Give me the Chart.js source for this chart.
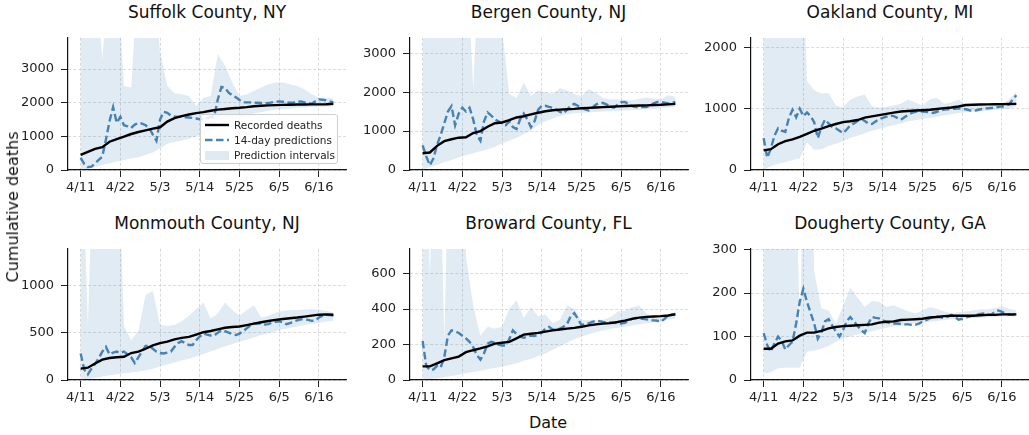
<!DOCTYPE html>
<html>
<head>
<meta charset="utf-8">
<script src="https://cdn.jsdelivr.net/npm/chart.js@4.4.1/dist/chart.umd.min.js"></script>
<style>
  body { margin: 0; background: #fff; font-family: "DejaVu Sans", sans-serif; }
  #fig { position: relative; width: 1029px; height: 435px; overflow: hidden; }
  .panel { position: absolute; }
  .title { position: absolute; text-align: center; font-size: 17px; line-height: 20px; color: #111; white-space: nowrap; }
  .axlabel { position: absolute; font-size: 16px; line-height: 20px; color: #111; white-space: nowrap; }
  #legend { position: absolute; left: 200px; top: 114px; width: 138px; height: 50px; box-sizing: border-box;
            border: 1px solid #cfcfcf; border-radius: 3px; background: rgba(255,255,255,0.85); font-size: 10.5px; color: #222; }
  #legend .row { position: absolute; left: 0; height: 14px; line-height: 14px; white-space: nowrap; }
  #legend svg { position: absolute; left: 3px; top: 0; }
  #legend span { position: absolute; left: 33px; top: 0; }
</style>
</head>
<body>
<div id="fig">
  <div id="legend">
    <div class="row" style="top:3px"><svg width="26" height="14"><line x1="1" y1="7" x2="25" y2="7" stroke="#000" stroke-width="2.4"/></svg><span>Recorded deaths</span></div>
    <div class="row" style="top:18px"><svg width="26" height="14"><line x1="1" y1="7" x2="25" y2="7" stroke="#4682b4" stroke-width="2.4" stroke-dasharray="7.5 3.5"/></svg><span>14-day predictions</span></div>
    <div class="row" style="top:33px"><svg width="26" height="14"><rect x="1" y="3" width="24" height="9" fill="rgba(70,130,180,0.17)"/></svg><span>Prediction intervals</span></div>
  </div>
  <div class="axlabel" style="left:13px; top:207px; transform:translate(-50%,-50%) rotate(-90deg);">Cumulative deaths</div>
  <div class="axlabel" style="left:548px; top:423px; transform:translate(-50%,-50%);">Date</div>
</div>
<script>
// x values: days since 4/11
const bandDays = Array.from({ length: 36 }, (_, i) => i * 2);
const predDays = Array.from({ length: 71 }, (_, i) => i);
const tickDays = [0, 11, 22, 33, 44, 55, 66];
const tickLabels = ["4/11", "4/22", "5/3", "5/14", "5/25", "6/5", "6/16"];

const titles = ["Suffolk County, NY", "Bergen County, NJ", "Oakland County, MI",
                "Monmouth County, NJ", "Broward County, FL", "Dougherty County, GA"];
const yStep = [1000, 1000, 1000, 500, 200, 100];

// recorded deaths (every 2 days)
const suffolkRec = [450,540,630,680,840,920,990,1070,1130,1180,1230,1270,1440,1540,1600,1650,1690,1720,1760,1795,1815,1835,1850,1870,1895,1910,1920,1930,1937,1940,1945,1948,1950,1952,1955,1965];
const bergenRec = [430,450,620,740,790,830,840,950,1000,1110,1200,1220,1280,1350,1380,1430,1470,1510,1535,1550,1560,1570,1585,1595,1605,1615,1625,1635,1645,1650,1655,1660,1670,1675,1685,1698];
const oaklandRec = [320,340,420,470,500,540,590,640,675,715,750,780,795,815,855,875,895,915,935,955,962,970,975,982,995,1010,1020,1035,1060,1065,1068,1070,1072,1074,1076,1078];
const monmouthRec = [120,130,175,215,232,240,245,285,300,330,365,390,405,430,445,455,480,505,518,535,552,560,565,580,595,610,623,635,645,652,660,670,680,690,693,690];
const browardRec = [77,77,94,112,122,132,157,168,178,190,205,210,215,235,256,261,266,273,280,285,290,294,300,308,314,318,321,327,335,345,352,356,358,360,364,370];
const doughertyRec = [72,72,84,89,91,102,109,109,113,119,122,124,125,126,127,128,132,134,135,138,139,140,141,144,145,147,148,148,148,148,149,150,150,151,151,151];

// 14-day predictions (daily)
const suffolkPred = [360,180,90,100,200,300,400,900,1450,1870,1400,
  1580,1330,1300,1250,1350,1400,1380,1330,1250,1050,
  870,1500,1730,1700,1620,1590,1580,1580,1570,1560,
  1550,1530,1510,1510,1540,1570,1600,2100,2470,2440,
  2300,2220,2160,2080,2010,2010,2010,2000,2000,1990,
  1980,1990,2010,2030,2040,2030,2010,2000,2010,2030,
  2040,2010,1980,1970,2040,2100,2090,2070,2040,2010];
const bergenPred = [630,350,120,300,650,900,1200,1500,1640,1150,1450,
  1600,1500,1600,1300,900,750,1250,1480,1400,1300,
  1250,1200,1150,1250,1100,1050,1300,1450,1300,1100,
  1250,1550,1650,1650,1620,1600,1550,1500,1450,1550,
  1650,1700,1650,1600,1560,1530,1600,1680,1720,1720,
  1680,1620,1600,1680,1740,1750,1700,1640,1620,1620,
  1620,1620,1660,1710,1750,1750,1730,1710,1720,1750];
const oaklandPred = [520,200,350,560,680,640,620,850,980,860,1000,
  880,940,880,780,520,700,820,760,700,680,
  640,600,660,730,760,800,840,800,760,750,
  790,830,850,870,890,880,850,820,860,900,
  930,950,960,955,950,940,930,950,970,985,
  990,1000,1000,1005,1000,990,975,965,975,990,
  1000,1005,1010,1020,1030,1035,1045,1070,1150,1220];
const monmouthPred = [280,110,60,120,170,230,300,350,270,290,300,
  285,300,270,240,180,240,300,360,360,330,
  300,285,280,290,300,350,390,410,385,370,
  370,420,460,490,480,470,470,500,525,515,
  500,485,475,490,515,545,575,595,600,595,
  585,590,605,615,620,610,590,600,620,630,
  640,640,635,625,630,660,680,690,685,680];
const browardPred = [220,80,55,60,80,70,130,250,280,275,265,
  250,235,215,185,140,115,150,205,215,210,
  200,195,195,230,280,260,245,238,245,250,
  248,255,268,290,300,285,283,290,300,315,
  360,377,345,310,315,320,328,334,332,328,
  325,325,322,320,318,322,332,345,350,348,
  345,342,338,336,334,328,345,365,370,372];
const doughertyPred = [108,80,65,85,100,90,70,80,88,130,180,
  210,180,155,130,95,110,135,140,125,112,
  100,115,135,145,135,125,115,108,130,145,
  143,142,138,133,131,130,130,129,128,128,
  127,127,130,134,138,142,145,146,144,143,
  146,150,145,139,141,144,146,148,150,152,
  153,151,150,157,160,157,153,150,150,151];

// prediction interval bounds (every 2 days)
const suffolkLow = [0,30,80,150,200,250,300,340,380,450,520,650,780,830,880,930,1000,1080,1150,1250,1350,1450,1550,1620,1680,1720,1760,1790,1810,1830,1850,1860,1870,1880,1890,1890];
const suffolkHigh = [6000,6000,6000,3300,6000,6000,2500,2450,6000,6000,6000,3500,2500,2280,2250,2200,1900,2150,2200,3450,3100,2600,2200,2250,2350,2450,2550,2600,2600,2550,2500,2400,2250,2150,2150,2150];
const bergenLow = [0,80,130,200,260,320,380,430,480,530,590,680,750,830,920,1020,1150,1250,1320,1380,1430,1460,1470,1480,1490,1500,1510,1520,1530,1540,1550,1560,1570,1590,1600,1620];
const bergenHigh = [6000,6000,6000,6000,6000,6000,6000,2100,6000,6000,6000,3600,1950,1850,2250,1900,2050,2000,1950,2100,2050,1950,1900,2080,1980,1850,1820,1820,1800,1790,1830,1860,1830,1820,1920,1880];
const oaklandLow = [0,60,100,130,160,190,450,330,340,390,430,470,520,560,600,640,670,700,730,760,790,810,830,850,870,890,910,930,940,950,960,970,980,990,1000,1040];
const oaklandHigh = [5000,5000,5000,5000,5000,5000,1450,1300,1250,1250,1050,1020,1150,1200,1230,1040,1020,1030,1050,1080,1150,1100,1050,1150,1180,1080,1100,1150,1080,1050,1050,1060,1050,1060,1150,1280];
const monmouthLow = [0,10,20,35,50,60,70,80,90,100,120,145,165,185,205,225,250,275,300,330,355,380,405,425,450,475,495,515,535,550,565,580,595,605,615,625];
const monmouthHigh = [3000,580,3000,3000,3000,3000,570,420,520,900,940,580,570,580,620,680,750,820,650,700,820,740,680,740,790,660,680,710,730,740,740,745,750,740,735,710];
const browardLow = [0,5,10,15,22,30,38,45,52,60,68,75,85,95,108,120,135,150,170,190,210,230,245,258,270,280,288,295,302,308,314,320,326,332,340,348];
const browardHigh = [2000,580,2000,220,2000,2000,700,420,250,300,290,300,400,450,350,410,360,370,320,340,420,400,335,340,335,340,355,385,390,410,420,375,355,350,360,380];
const doughertyLow = [15,18,27,28,28,28,65,68,72,78,88,95,100,105,108,112,116,120,123,126,128,130,132,134,136,138,140,141,142,143,143,144,145,146,146,146];
const doughertyHigh = [900,900,900,900,900,100,900,250,165,160,130,170,213,190,168,182,180,168,172,165,158,153,160,168,164,158,153,156,158,160,163,162,165,170,164,160];

const panels = [
  [suffolkRec, suffolkPred, suffolkLow, suffolkHigh],
  [bergenRec, bergenPred, bergenLow, bergenHigh],
  [oaklandRec, oaklandPred, oaklandLow, oaklandHigh],
  [monmouthRec, monmouthPred, monmouthLow, monmouthHigh],
  [browardRec, browardPred, browardLow, browardHigh],
  [doughertyRec, doughertyPred, doughertyLow, doughertyHigh],
];

// layout of the plot areas
const colLeft = [68, 409.5, 751];
const rowTop = [27, 238];
const plotW = 278;
const plotH = [143, 142];
const padL = 56, padT = 4, padR = 6, padB = 30;

Chart.defaults.font.family = "'DejaVu Sans', sans-serif";
Chart.defaults.font.size = 13;
Chart.defaults.color = "#222";

const pts = (xs, ys) => ys.map((y, i) => ({ x: xs[i], y: y }));
const fig = document.getElementById("fig");
const legendEl = document.getElementById("legend");

panels.forEach((p, i) => {
  const [rec, pred, low, high] = p;
  const L = colLeft[i % 3], T = rowTop[Math.floor(i / 3)], H = plotH[Math.floor(i / 3)];

  const title = document.createElement("div");
  title.className = "title";
  title.style.left = L + "px";
  title.style.width = plotW + "px";
  title.style.top = (T - 25) + "px";
  title.textContent = titles[i];
  fig.appendChild(title);

  const wrap = document.createElement("div");
  wrap.className = "panel";
  wrap.style.left = (L - padL) + "px";
  wrap.style.top = (T - padT) + "px";
  const cv = document.createElement("canvas");
  cv.width = plotW + padL + padR;
  cv.height = H + padT + padB;
  cv.style.width = cv.width + "px";
  cv.style.height = cv.height + "px";
  wrap.appendChild(cv);
  fig.insertBefore(wrap, legendEl);

  const yMax = 2 * Math.max(...rec);
  const step = yStep[i];

  new Chart(cv, {
    type: "line",
    data: {
      datasets: [
        { label: "Recorded deaths", data: pts(bandDays, rec), borderColor: "#000", borderWidth: 2.4,
          pointRadius: 0, tension: 0, fill: false },
        { label: "14-day predictions", data: pts(predDays, pred), borderColor: "#4682b4", borderWidth: 2.4,
          borderDash: [7.5, 3.5], pointRadius: 0, tension: 0, fill: false },
        { label: "lower", data: pts(bandDays, low), borderColor: "rgba(0,0,0,0)", borderWidth: 0,
          pointRadius: 0, tension: 0, fill: false },
        { label: "Prediction intervals", data: pts(bandDays, high), borderColor: "rgba(0,0,0,0)", borderWidth: 0,
          pointRadius: 0, tension: 0, fill: "-1", backgroundColor: "rgba(70,130,180,0.16)" },
      ],
    },
    options: {
      responsive: false,
      animation: false,
      events: [],
      layout: { padding: { top: padT, right: padR, left: 0, bottom: 0 } },
      plugins: { legend: { display: false }, tooltip: { enabled: false } },
      scales: {
        x: {
          type: "linear", min: -3.5, max: 73.5,
          afterBuildTicks: (s) => { s.ticks = tickDays.map((v) => ({ value: v })); },
          afterFit: (s) => { s.height = padB; },
          ticks: { autoSkip: false, maxRotation: 0, padding: 3, callback: (v, idx) => tickLabels[idx] },
          grid: { color: "#d2d2d2", lineWidth: 0.8, tickLength: 7, tickColor: "#222", tickWidth: 1 },
          border: { color: "#111", width: 1.2, dash: [3, 2] },
        },
        y: {
          type: "linear", min: 0, max: yMax,
          afterBuildTicks: (s) => {
            const t = [];
            for (let v = 0; v <= yMax; v += step) t.push({ value: v });
            s.ticks = t;
          },
          afterFit: (s) => { s.width = padL; },
          ticks: { autoSkip: false, padding: 7, callback: (v) => String(v) },
          grid: { color: "#d2d2d2", lineWidth: 0.8, tickLength: 7, tickColor: "#222", tickWidth: 1 },
          border: { color: "#111", width: 1.2, dash: [3, 2] },
        },
      },
    },
  });
});
</script>
</body>
</html>
